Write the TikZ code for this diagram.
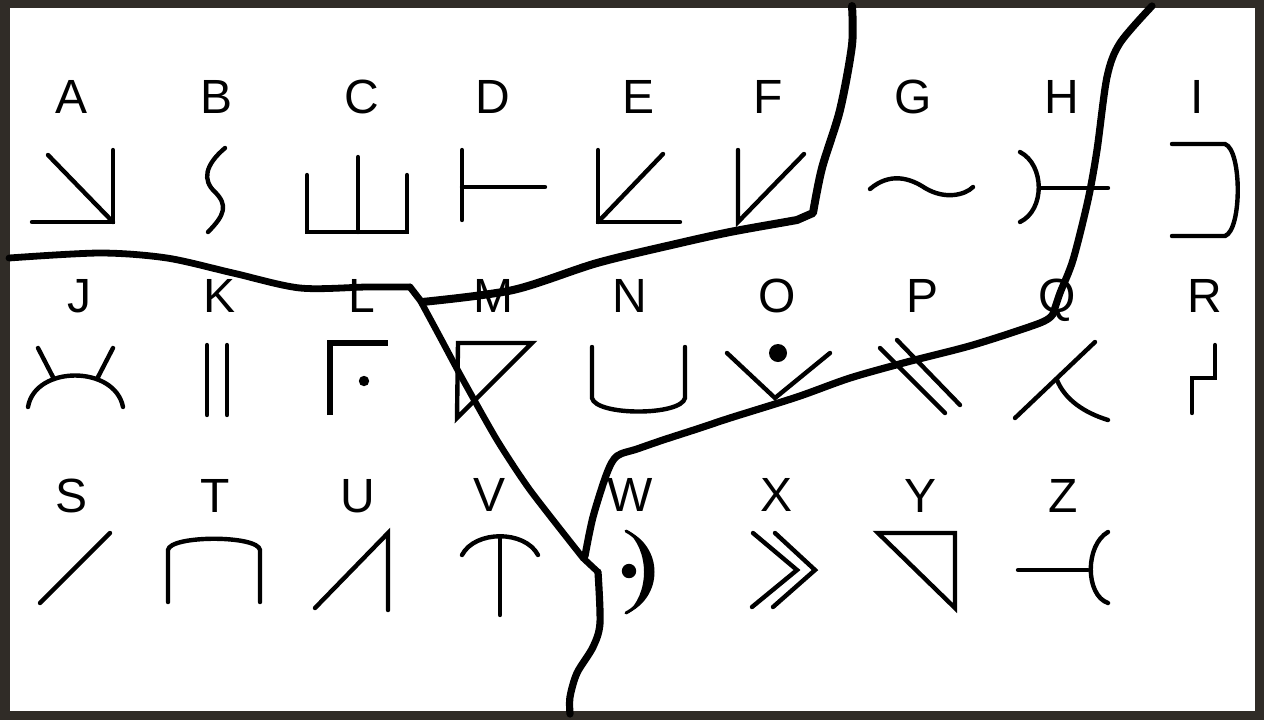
\documentclass[tikz,border=0pt]{standalone}
\usepackage{fontspec}
\setmainfont{Liberation Sans}
\begin{document}
\begin{tikzpicture}[x=0.5pt,y=-0.5pt,
  lbl/.style={anchor=base,inner sep=0pt,font=\fontsize{24}{24}\selectfont},
  glyph/.style={line width=2.2pt,line cap=round,line join=miter},
  mapline/.style={line width=3.8pt,line cap=round,line join=round}]
\definecolor{framecol}{HTML}{302C27}
\fill[framecol] (0,0) rectangle (1264,720);
\fill[white] (10,8) rectangle (1255,711);
\useasboundingbox (0,0) rectangle (1264,720);
% labels
\foreach \t/\x/\y in {A/72/113,B/217/113,C/362/113,D/493/113,E/639/113,F/768/113,G/913/113,H/1062/113,I/1197/113,
  J/80/312,K/220/312,L/362/312,M/493/312,N/630/312,O/777/312,P/922/312,Q/1057/312,R/1205/312,
  S/72/512,T/215/512,U/358/512,V/490/511,W/630/511,X/777/511,Y/920/512,Z/1063/512}
  \node[lbl] (l\t) at (\x,\y) {\t};
% row 1 glyphs
\draw[glyph] (48,155) -- (113,222);
\draw[glyph] (32,222) -- (113,222) -- (113,150);
\draw[glyph] (225,148) .. controls (205,165) and (202,180) .. (215,192) .. controls (228,205) and (225,215) .. (208,232);
\draw[glyph] (307,175) -- (307,232) -- (407,232) -- (407,175);
\draw[glyph] (358,157) -- (358,232);
\draw[glyph] (462,150) -- (462,220);
\draw[glyph] (462,187) -- (545,187);
\draw[glyph] (598,150) -- (598,222) -- (680,222);
\draw[glyph] (598,222) -- (663,154);
\draw[glyph] (738,150) -- (738,222) -- (804,154);
\draw[glyph] (870,189) .. controls (890,172) and (910,178) .. (925,188) .. controls (945,200) and (965,195) .. (973,187);
\draw[glyph] (1020,152) .. controls (1045,165) and (1045,210) .. (1020,222);
\draw[glyph] (1040,188) -- (1108,188);
\draw[glyph] (1172,144) -- (1225,144) .. controls (1242,150) and (1242,230) .. (1225,236) -- (1172,236);
% row 2 glyphs
\draw[glyph] (28,407) .. controls (35,365) and (115,365) .. (123,407);
\draw[glyph] (38,348) -- (54,379);
\draw[glyph] (113,348) -- (97,379);
\draw[glyph] (207,345) -- (207,415);
\draw[glyph] (227,345) -- (227,415);
\draw[glyph,line width=3pt,line cap=butt] (330,415) -- (330,343) -- (388,343);
\fill (364,381) circle[radius=2.6pt];
\draw[glyph] (457,418) -- (458,343) -- (532,343) -- cycle;
\draw[glyph] (592,347) -- (592,398) .. controls (596,416) and (681,416) .. (685,398) -- (685,347);
\draw[glyph] (727,353) -- (775,398) -- (830,353);
\fill (778,353) circle[radius=4.5pt];
\draw[glyph] (880,348) -- (945,413);
\draw[glyph] (897,340) -- (960,405);
\draw[glyph] (1015,418) -- (1095,342);
\draw[glyph] (1057,380) .. controls (1065,400) and (1085,413) .. (1108,420);
\draw[glyph] (1215,345) -- (1215,378) -- (1192,378) -- (1192,413);
% row 3 glyphs
\draw[glyph] (40,603) -- (110,533);
\draw[glyph] (168,602) -- (168,550) .. controls (170,535) and (258,535) .. (260,550) -- (260,602);
\draw[glyph] (315,608) -- (388,533) -- (388,610);
\draw[glyph] (462,555) .. controls (475,530) and (525,530) .. (538,555);
\draw[glyph] (500,537) -- (500,615);
\fill (626,530) .. controls (664,546) and (664,598) .. (626,614) .. controls (650,594) and (650,550) .. (626,530) -- cycle;
\draw[line width=1.5pt,line cap=round] (626,531) .. controls (658,548) and (658,596) .. (626,613);
\fill (629,571) circle[radius=3.6pt];
\draw[glyph] (753,533) -- (797,570) -- (752,607);
\draw[glyph] (775,533) -- (815,570) -- (773,607);
\draw[glyph] (878,533) -- (955,533) -- (955,608) -- cycle;
\draw[glyph] (1018,570) -- (1088,570);
\draw[glyph] (1108,532) .. controls (1085,545) and (1085,595) .. (1108,603);
% map lines
\draw[mapline,line width=4pt] plot[smooth,tension=0.5] coordinates {(852,6) (852,45) (840,110) (822,168) (813,213)}
  -- (797,220) -- (780,223);
\draw[mapline,line width=4pt] plot[smooth,tension=0.5] coordinates {(780,223) (730,232) (680,243) (597,263) (513,290) (422,302)};
\draw[mapline,line width=3.4pt] plot[smooth,tension=0.5] coordinates {(9,258) (100,253) (167,258) (233,273) (300,288) (367,287) (410,287)};
\draw[mapline,line width=3.4pt] (410,287) -- (420,300);
\draw[mapline,line width=3.2pt] plot[smooth,tension=0.4] coordinates {(420,300) (440,337) (462,378) (497,440) (530,490) (583,558)} -- (598,572);
\draw[mapline,line width=3.6pt] plot[smooth,tension=0.5] coordinates {(598,572) (600,623) (593,647) (577,673) (570,697) (570,714)};
\draw[mapline,line width=3.6pt] plot[smooth,tension=0.5] coordinates {(585,556) (593,517) (607,473) (617,456) (637,449) (663,440) (700,428) (730,418) (797,397) (850,378) (907,362) (973,345) (1040,323) (1053,314)};
\draw[mapline,line width=3.6pt] plot[smooth,tension=0.5] coordinates {(1053,314) (1060,293) (1073,260) (1088,200) (1097,150) (1107,77) (1120,43) (1152,6)};
\end{tikzpicture}
\end{document}
